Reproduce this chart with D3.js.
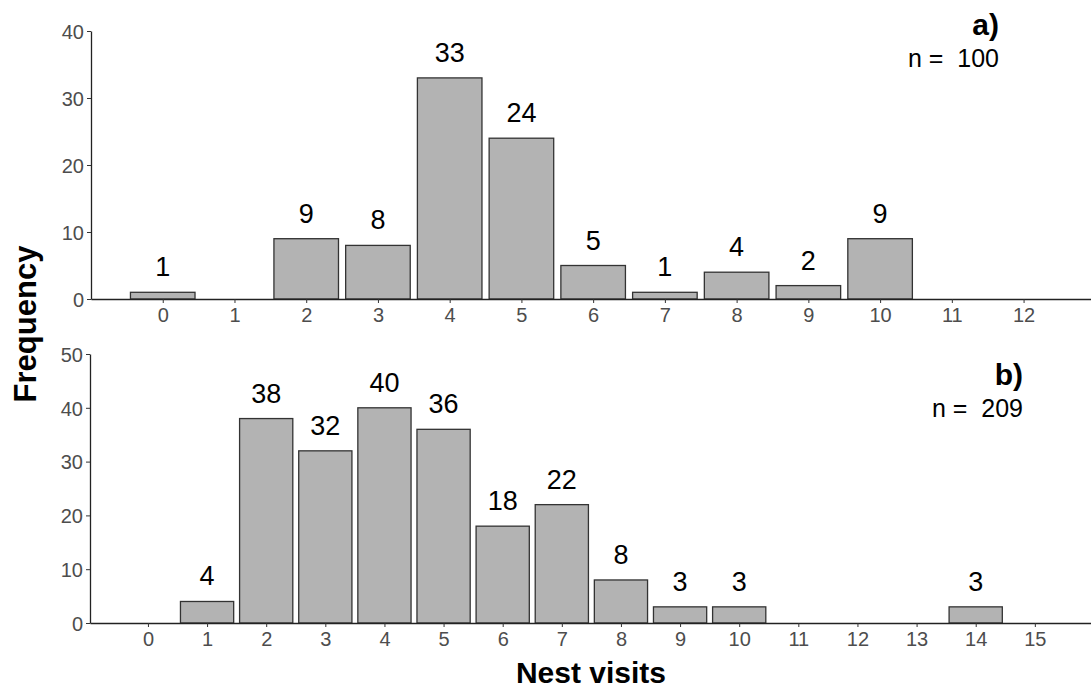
<!DOCTYPE html>
<html><head><meta charset="utf-8">
<script src="https://cdn.jsdelivr.net/npm/d3@7"></script>
<style>body{margin:0;background:#fff}svg{display:block}text{font-family:Arial,"Liberation Sans",sans-serif}</style>
</head><body>
<svg id="c" width="1091" height="692"></svg>
<script>
const visitsA = [0,1,2,3,4,5,6,7,8,9,10,11,12];
const freqA   = [1,0,9,8,33,24,5,1,4,2,9,0,0];
const ticksA  = [0,10,20,30,40];
const visitsB = [0,1,2,3,4,5,6,7,8,9,10,11,12,13,14,15];
const freqB   = [0,4,38,32,40,36,18,22,8,3,3,0,0,0,3,0];
const ticksB  = [0,10,20,30,40,50];
const panelLabels = ["a)","b)"];
const nLabels = ["n =  100","n =  209"];

const svg = d3.select("#c");

function panel(cfg){
  const g = svg.append("g");
  const x = d3.scaleLinear().domain(cfg.xdom).range([cfg.left, 1091]);
  const y = d3.scaleLinear().domain([0, cfg.ymax]).range([cfg.bottom, cfg.top]);
  const bw = (x(1)-x(0))*0.9;
  const data = cfg.visits.map((v,i)=>({v, f:cfg.freq[i]}));
  g.selectAll("rect").data(data.filter(d=>d.f>0)).join("rect")
    .attr("x", d=>x(d.v)-bw/2).attr("width", bw)
    .attr("y", d=>y(d.f)).attr("height", d=>y(0)-y(d.f))
    .attr("fill","#b3b3b3").attr("stroke","#333").attr("stroke-width",1.3);
  g.selectAll("text.lab").data(data.filter(d=>d.f>0)).join("text").attr("class","lab")
    .attr("x", d=>x(d.v)).attr("y", d=>y(d.f)-16)
    .attr("text-anchor","middle").attr("font-size",27).attr("fill","#000").text(d=>d.f);
  const xa = g.append("g").attr("transform",`translate(0,${cfg.bottom})`)
    .call(d3.axisBottom(x).tickValues(cfg.visits).tickFormat(d3.format("d")).tickSize(4).tickSizeOuter(0));
  const ya = g.append("g").attr("transform",`translate(${cfg.left},0)`)
    .call(d3.axisLeft(y).tickValues(cfg.yticks).tickSize(4).tickSizeOuter(0));
  [xa,ya].forEach(a=>{
    a.attr("font-size",20).attr("font-family",null);
    a.select(".domain").attr("stroke","#222").attr("stroke-width",1.3);
    a.selectAll(".tick line").attr("stroke","#333");
    a.selectAll(".tick text").attr("fill","#4d4d4d").attr("font-size",20);
  });
  xa.selectAll(".tick text").attr("dy","0.8em");
  ya.selectAll(".tick text").attr("dy","0.36em");
  g.append("text").attr("x", cfg.plx).attr("y", cfg.ply).attr("text-anchor","end")
    .attr("font-weight","bold").attr("font-size",30).text(cfg.pl);
  g.append("text").attr("x", cfg.plx).attr("y", cfg.ply+32).attr("text-anchor","end")
    .attr("font-size",25).style("white-space","pre").text(cfg.n);
}

panel({visits:visitsA,freq:freqA,yticks:ticksA,ymax:40,xdom:[-1,12.94],left:91,top:31,bottom:299,pl:panelLabels[0],n:nLabels[0],plx:999,ply:35});
panel({visits:visitsB,freq:freqB,yticks:ticksB,ymax:50,xdom:[-0.98,15.95],left:90,top:354,bottom:623,pl:panelLabels[1],n:nLabels[1],plx:1023,ply:385});

svg.append("text").attr("transform","translate(36,324) rotate(-90)").attr("text-anchor","middle")
  .attr("font-weight","bold").attr("font-size",31).text("Frequency");
svg.append("text").attr("x",591).attr("y",683).attr("text-anchor","middle")
  .attr("font-weight","bold").attr("font-size",30).text("Nest visits");
</script>
</body></html>
